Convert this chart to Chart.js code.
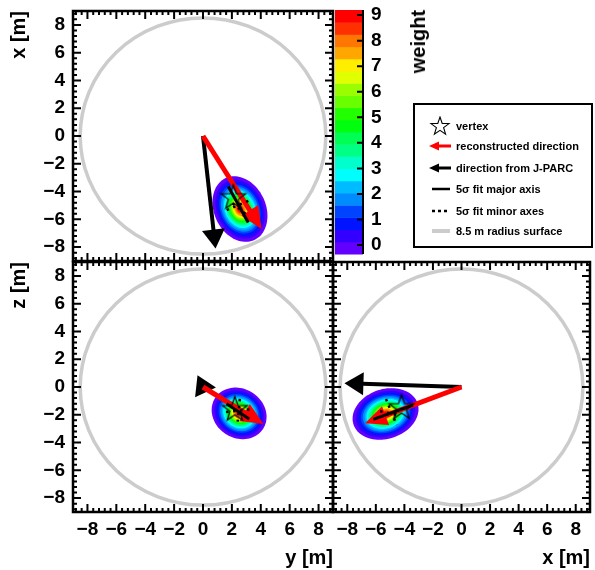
<!DOCTYPE html>
<html>
<head>
<meta charset="utf-8">
<script src="https://cdn.jsdelivr.net/npm/chart.js@4.4.1/dist/chart.umd.min.js"></script>
<style>
  body { margin: 0; background: #fff; }
  #wrap { position: relative; width: 595px; height: 570px; overflow: hidden;
          font-family: "Liberation Sans", Arial, sans-serif; font-weight: bold; color: #000; }
  canvas { position: absolute; left: 0; top: 0; }
  #legendBox { position: absolute; left: 413px; top: 103px; width: 176px; height: 141px; border: 2px solid #000; }
  .lrow { position: absolute; left: 428px; height: 20px; }
  .lrow svg { position: absolute; left: 0; top: 0; }
  .lrow span { position: absolute; left: 28px; top: 3px; font-size: 11px; line-height: 14px; white-space: nowrap; }
  #weight { position: absolute; left: 407px; top: 10px; font-size: 20px; line-height: 22px;
            writing-mode: vertical-rl; transform: rotate(180deg); }
</style>
</head>
<body>
<div id="wrap">
  <canvas id="cTL" width="595" height="570"></canvas>
  <canvas id="cBL" width="595" height="570"></canvas>
  <canvas id="cBR" width="595" height="570"></canvas>
  <canvas id="cBar" width="595" height="570"></canvas>
  <div id="weight">weight</div>
  <div id="legendBox"></div>
</div>
<script>
// axes shared by the three projections
const axisRange = [-9, 9];
const axisTicks = [-8, -6, -4, -2, 0, 2, 4, 6, 8];
const circleRadius = 8.5;

// one entry per panel: top-left (y, x), bottom-left (y, z), bottom-right (x, z)
const vertexPos    = [[2.1, -4.37], [2.2, -1.55], [-4.2, -1.42]];
const recoTips     = [[4.05, -6.7], [4.18, -2.67], [-6.76, -2.61]];
const jparcTips    = [[0.87, -8.1], [-0.38, 0.85], [-8.2, 0.27]];
const majorStarts  = [[1.75, -3.63], [1.64, -1.2], [-6.18, -2.33]];
const majorEnds    = [[3.13, -6.23], [3.2, -2.3], [-3.4, -1.3]];
const minorAStarts = [[1.64, -5.33], [2.55, -0.85], [-5.29, -0.86]];
const minorAEnds   = [[3.3, -4.6], [2.4, -2.5], [-4.54, -2.73]];
const minorBStarts = [[2.05, -4.85], [1.6, -1.8], [-5.7, -1.75]];
const minorBEnds   = [[2.95, -5.6], [3.35, -1.6], [-4.3, -2.05]];

// weight blobs, read as nested contour ellipses
const blobCenters = [[2.56, -5.26], [2.5, -1.9], [-5.32, -1.94]];
const blobAxes    = [[2.44, 1.8], [2.0, 1.75], [2.37, 1.78]];
const blobAngles  = [-68, -40, 20];
const ringScale   = [1.0, 0.9, 0.82, 0.75, 0.69, 0.63, 0.58, 0.53, 0.49, 0.45,
                     0.41, 0.37, 0.34, 0.30, 0.27, 0.24, 0.21, 0.17, 0.13, 0.09];

// colour scale
const weightRange = [-0.35, 9.2];
const weightTicks = [0, 1, 2, 3, 4, 5, 6, 7, 8, 9];
const paletteColors = ["#6200ff", "#3300ff", "#0014ff", "#0044ff", "#008bff",
                       "#00bbff", "#00fffc", "#00ffcc", "#00ff85", "#00ff55",
                       "#00ff0e", "#22ff00", "#69ff00", "#99ff00", "#e0ff00",
                       "#ffee00", "#ffa700", "#ff7700", "#ff3000", "#ff0000"];

const legendLabels = ["vertex", "reconstructed direction", "direction from J-PARC",
                      "5\u03c3 fit major axis", "5\u03c3 fit minor axes", "8.5 m radius surface"];

Chart.defaults.font.family = '"Liberation Sans", Arial, sans-serif';
Chart.defaults.font.weight = 'bold';
Chart.defaults.color = '#000';

const fmt = (v) => (v < 0 ? '\u2212' + (-v) : String(v));

const starPoints = (cx, cy, R, r) => {
  const pts = [];
  for (let i = 0; i < 10; i++) {
    const a = (-90 + i * 36) * Math.PI / 180;
    const rr = i % 2 ? r : R;
    pts.push([cx + rr * Math.cos(a), cy + rr * Math.sin(a)]);
  }
  return pts;
};

// open star marker
const starImg = document.createElement('canvas');
starImg.width = 30;
starImg.height = 30;
(() => {
  const c = starImg.getContext('2d');
  c.strokeStyle = '#000';
  c.lineWidth = 1.2;
  c.beginPath();
  starPoints(15, 16, 13, 5.2).forEach(([x, y], i) => (i ? c.lineTo(x, y) : c.moveTo(x, y)));
  c.closePath();
  c.stroke();
})();

const ellipsePath = (ctx, xs, ys, c, ax, ang, s) => {
  const th = ang * Math.PI / 180, ct = Math.cos(th), st = Math.sin(th);
  ctx.beginPath();
  for (let k = 0; k <= 90; k++) {
    const t = k / 90 * 2 * Math.PI;
    const u = ax[0] * s * Math.cos(t), v = ax[1] * s * Math.sin(t);
    const px = xs.getPixelForValue(c[0] + u * ct - v * st);
    const py = ys.getPixelForValue(c[1] + u * st + v * ct);
    k ? ctx.lineTo(px, py) : ctx.moveTo(px, py);
  }
  ctx.closePath();
};

const drawArrow = (ctx, x0, y0, x1, y1, color, width, headLen, headHalf) => {
  const len = Math.hypot(x1 - x0, y1 - y0);
  const ux = (x1 - x0) / len, uy = (y1 - y0) / len;
  const bx = x1 - ux * headLen, by = y1 - uy * headLen;
  ctx.strokeStyle = color;
  ctx.fillStyle = color;
  ctx.lineWidth = width;
  if (len > headLen) {
    ctx.beginPath();
    ctx.moveTo(x0, y0);
    ctx.lineTo(bx + ux, by + uy);
    ctx.stroke();
  }
  ctx.beginPath();
  ctx.moveTo(x1, y1);
  ctx.lineTo(bx - uy * headHalf, by + ux * headHalf);
  ctx.lineTo(bx + uy * headHalf, by - ux * headHalf);
  ctx.closePath();
  ctx.fill();
};

const panelPlugin = {
  id: 'panelDraw',
  beforeDatasetsDraw(chart, args, opts) {
    const p = opts.index;
    const { ctx, scales: { x, y } } = chart;
    ctx.save();
    // 8.5 m surface
    const cx = x.getPixelForValue(0), cy = y.getPixelForValue(0);
    ctx.strokeStyle = '#cccccc';
    ctx.lineWidth = 3.5;
    ctx.beginPath();
    ctx.ellipse(cx, cy, x.getPixelForValue(circleRadius) - cx, cy - y.getPixelForValue(circleRadius), 0, 0, 2 * Math.PI);
    ctx.stroke();
    // weight map
    paletteColors.forEach((col, i) => {
      ctx.fillStyle = col;
      ellipsePath(ctx, x, y, blobCenters[p], blobAxes[p], blobAngles[p], ringScale[i]);
      ctx.fill();
    });
    // arrows from the detector centre
    drawArrow(ctx, cx, cy, x.getPixelForValue(jparcTips[p][0]), y.getPixelForValue(jparcTips[p][1]), '#000', 4, 19, 11.5);
    drawArrow(ctx, cx, cy, x.getPixelForValue(recoTips[p][0]), y.getPixelForValue(recoTips[p][1]), '#ff0000', 5, 22, 10);
    ctx.restore();
  },
  afterDraw(chart) {
    const { ctx, chartArea: a, scales: { x, y } } = chart;
    ctx.save();
    ctx.strokeStyle = '#000';
    ctx.lineWidth = 2;
    ctx.beginPath();
    for (let k = -22; k <= 22; k++) {
      const v = k * 0.4;
      const len = k % 5 === 0 ? 8 : 4;
      const px = x.getPixelForValue(v), py = y.getPixelForValue(v);
      ctx.moveTo(px, a.bottom); ctx.lineTo(px, a.bottom - len);
      ctx.moveTo(px, a.top); ctx.lineTo(px, a.top + len);
      ctx.moveTo(a.left, py); ctx.lineTo(a.left + len, py);
      ctx.moveTo(a.right, py); ctx.lineTo(a.right - len, py);
    }
    ctx.stroke();
    ctx.lineWidth = 2.5;
    ctx.strokeRect(a.left, a.top, a.right - a.left, a.bottom - a.top);
    ctx.restore();
  }
};

function axisOptions(axis, show, title) {
  return {
    type: 'linear',
    min: axisRange[0],
    max: axisRange[1],
    display: show,
    position: axis === 'x' ? 'bottom' : 'left',
    grid: { display: false, drawTicks: false },
    border: { display: false },
    afterBuildTicks: (s) => { s.ticks = axisTicks.map((v) => ({ value: v })); },
    afterFit: (s) => {
      if (show) {
        if (axis === 'x') s.height = 58; else s.width = 73;
      }
      s.paddingTop = s.paddingBottom = s.paddingLeft = s.paddingRight = 0;
    },
    ticks: {
      autoSkip: false, maxRotation: 0, minRotation: 0,
      padding: axis === 'x' ? 6 : 8,
      font: { size: 19, weight: 'bold' },
      color: '#000',
      callback: (v) => fmt(v)
    },
    title: {
      display: !!title, text: title || '', align: 'end', color: '#000',
      font: { size: 20, weight: 'bold' },
      padding: axis === 'x' ? { top: 0, bottom: 0 } : { top: 7, bottom: 0 }
    }
  };
}

const pt = (a) => ({ x: a[0], y: a[1] });

function panelConfig(p, showX, showY, xTitle, yTitle, pad) {
  return {
    type: 'scatter',
    data: {
      datasets: [
        { data: [pt(vertexPos[p])], pointStyle: starImg, pointRadius: 3 },
        { data: [pt(minorAStarts[p]), pt(minorAEnds[p])], showLine: true, pointRadius: 0,
          borderColor: '#000', borderWidth: 2.5, borderDash: [2.5, 4.5] },
        { data: [pt(minorBStarts[p]), pt(minorBEnds[p])], showLine: true, pointRadius: 0,
          borderColor: '#000', borderWidth: 2.5, borderDash: [2.5, 4.5] },
        { data: [pt(majorStarts[p]), pt(majorEnds[p])], showLine: true, pointRadius: 0,
          borderColor: '#000', borderWidth: 3 }
      ]
    },
    options: {
      responsive: false, animation: false, devicePixelRatio: 1, events: [],
      layout: { padding: pad },
      plugins: { legend: { display: false }, tooltip: { enabled: false }, panelDraw: { index: p } },
      scales: { x: axisOptions('x', showX, xTitle), y: axisOptions('y', showY, yTitle) }
    },
    plugins: [panelPlugin]
  };
}

new Chart(document.getElementById('cTL'), panelConfig(0, false, true, '', 'x [m]', { left: 0, top: 11, right: 262, bottom: 309 }));
new Chart(document.getElementById('cBL'), panelConfig(1, true, true, 'y [m]', 'z [m]', { left: 0, top: 262, right: 262, bottom: 0 }));
new Chart(document.getElementById('cBR'), panelConfig(2, true, false, 'x [m]', '', { left: 333, top: 262, right: 5, bottom: 0 }));

// colour bar
const barPlugin = {
  id: 'colorBar',
  beforeDatasetsDraw(chart) {
    const { ctx, chartArea: a, scales: { y } } = chart;
    const step = (weightRange[1] - weightRange[0]) / paletteColors.length;
    ctx.save();
    paletteColors.forEach((col, i) => {
      const top = y.getPixelForValue(weightRange[0] + (i + 1) * step);
      const bot = y.getPixelForValue(weightRange[0] + i * step);
      ctx.fillStyle = col;
      ctx.fillRect(a.left, top, a.right - a.left, bot - top + 0.5);
    });
    ctx.strokeStyle = '#000';
    ctx.lineWidth = 2;
    ctx.beginPath();
    ctx.moveTo(a.right, a.top);
    ctx.lineTo(a.right, a.bottom);
    weightTicks.forEach((v) => {
      const py = y.getPixelForValue(v);
      ctx.moveTo(a.right, py);
      ctx.lineTo(a.right - 6, py);
    });
    ctx.stroke();
    ctx.restore();
  }
};

new Chart(document.getElementById('cBar'), {
  type: 'scatter',
  data: { datasets: [] },
  options: {
    responsive: false, animation: false, devicePixelRatio: 1, events: [],
    layout: { padding: { left: 335, top: 10, right: 192, bottom: 316 } },
    plugins: { legend: { display: false }, tooltip: { enabled: false } },
    scales: {
      x: { type: 'linear', min: 0, max: 1, display: false },
      y: {
        type: 'linear', position: 'right', min: weightRange[0], max: weightRange[1],
        grid: { display: false, drawTicks: false }, border: { display: false },
        afterBuildTicks: (s) => { s.ticks = weightTicks.map((v) => ({ value: v })); },
        afterFit: (s) => { s.width = 40; s.paddingTop = s.paddingBottom = 0; },
        ticks: { padding: 8, font: { size: 19, weight: 'bold' }, color: '#000' }
      }
    }
  },
  plugins: [barPlugin]
});

// legend
const legendRowY = [126, 146, 168, 189, 211, 231];
const legendIcons = [
  () => `<polygon points="${starPoints(12, 10.5, 9.5, 3.8).map((q) => q.join(',')).join(' ')}" fill="none" stroke="#000" stroke-width="1.1"/>`,
  () => `<line x1="23" y1="10" x2="9" y2="10" stroke="#ff0000" stroke-width="3"/><polygon points="1,10 11,5.5 11,14.5" fill="#ff0000"/>`,
  () => `<line x1="23" y1="10" x2="9" y2="10" stroke="#000" stroke-width="3"/><polygon points="1,10 11,5.5 11,14.5" fill="#000"/>`,
  () => `<line x1="4" y1="10" x2="22" y2="10" stroke="#000" stroke-width="2.5"/>`,
  () => `<line x1="4" y1="10" x2="22" y2="10" stroke="#000" stroke-width="2.5" stroke-dasharray="3,3"/>`,
  () => `<line x1="4" y1="10" x2="22" y2="10" stroke="#cccccc" stroke-width="4"/>`
];
const wrap = document.getElementById('wrap');
legendLabels.forEach((label, i) => {
  const row = document.createElement('div');
  row.className = 'lrow';
  row.style.top = (legendRowY[i] - 10) + 'px';
  row.innerHTML = `<svg width="26" height="20">${legendIcons[i]()}</svg><span>${label}</span>`;
  wrap.appendChild(row);
});
</script>
</body>
</html>
